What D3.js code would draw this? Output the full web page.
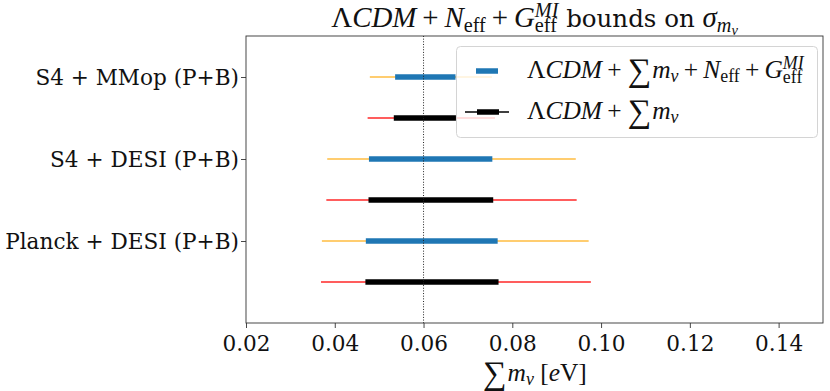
<!DOCTYPE html>
<html>
<head>
<meta charset="utf-8">
<script src="https://cdn.jsdelivr.net/npm/d3@7"></script>
<style>
  body { margin: 0; background: #fff; }
  svg { display: block; }
</style>
</head>
<body>
<svg id="chartArea" width="830" height="391"></svg>
<script>
// survey combinations, bottom to top
const categories = ["Planck + DESI (P+B)", "S4 + DESI (P+B)", "S4 + MMop (P+B)"];
const fiducialMass = 0.06;
const xTicks = [0.02, 0.04, 0.06, 0.08, 0.10, 0.12, 0.14];

// LCDM + sum m_nu + Neff + Geff (blue)
const extLo68 = [0.0470, 0.0477, 0.0536];
const extHi68 = [0.0767, 0.0755, 0.0672];
const extLo95 = [0.0371, 0.0383, 0.0479];
const extHi95 = [0.0972, 0.0943, 0.0754];

// LCDM + sum m_nu (black)
const baseLo68 = [0.0469, 0.0476, 0.0533];
const baseHi68 = [0.0769, 0.0757, 0.0673];
const baseLo95 = [0.0369, 0.0381, 0.0474];
const baseHi95 = [0.0977, 0.0945, 0.0761];

const FS = 21.6;
const mathFont = "Liberation Serif";
const mathScale = 1.18;   // Liberation is narrower than computer modern
const textFont = "DejaVu Serif";

// lays out a list of math pieces left to right, returns the group
function mathText(parent, parts, x, y, anchor, base) {
    base = base || FS;
    let g = parent.append("g");
    let cx = 0, stackX = null;
    parts.forEach(p => {
        let isText = p.f === "d";
        let size = (p.size || 1) * base * (isText ? 1 : mathScale);
        let pad = (p.pad || 0) * base;
        let startX = p.stacked ? stackX : cx + pad;
        let t = g.append("text")
            .attr("x", startX)
            .attr("y", (p.dy || 0) * base)
            .style("font-family", isText ? textFont : mathFont)
            .style("font-style", p.it ? "italic" : "normal")
            .style("font-size", size + "px")
            .style("white-space", "pre")
            .attr("fill", "#111")
            .text(p.t);
        let w = t.node().getComputedTextLength();
        if (p.stack) stackX = startX;
        let end = startX + w + pad;
        cx = p.stacked ? Math.max(cx, end) : end;
    });
    let shift = anchor === "middle" ? -cx / 2 : 0;
    g.attr("transform", `translate(${x + shift},${y})`);
    return g;
}

function createChart() {
    const svg = d3.select("#chartArea");
    const margin = {top: 36, right: 7, bottom: 68, left: 246};
    const width = 830, height = 391;
    const cWidth = width - margin.left - margin.right;
    const cHeight = height - margin.top - margin.bottom;

    let g = svg.append("g").attr("transform", `translate(${margin.left},${margin.top})`);

    let scaleX = d3.scaleLinear().domain([0.02, 0.15]).range([0, cWidth]);
    let scaleY = d3.scaleLinear().domain([-0.5, 3.0]).range([cHeight, 0]);

    let rows = categories.map((c, i) => ({
        name: c,
        yBase: i, yExt: i + 0.5,
        ext: [extLo68[i], extHi68[i], extLo95[i], extHi95[i]],
        base: [baseLo68[i], baseHi68[i], baseLo95[i], baseHi95[i]]
    }));

    // 95% lines
    rows.forEach(r => {
        g.append("line")
            .attr("x1", scaleX(r.ext[2])).attr("x2", scaleX(r.ext[3]))
            .attr("y1", scaleY(r.yExt)).attr("y2", scaleY(r.yExt))
            .attr("stroke", "orange").attr("stroke-opacity", 0.75).attr("stroke-width", 1.6);
        g.append("line")
            .attr("x1", scaleX(r.base[2])).attr("x2", scaleX(r.base[3]))
            .attr("y1", scaleY(r.yBase)).attr("y2", scaleY(r.yBase))
            .attr("stroke", "red").attr("stroke-opacity", 0.85).attr("stroke-width", 1.6);
    });
    // 68% bars
    rows.forEach(r => {
        g.append("line")
            .attr("x1", scaleX(r.ext[0])).attr("x2", scaleX(r.ext[1]))
            .attr("y1", scaleY(r.yExt)).attr("y2", scaleY(r.yExt))
            .attr("stroke", "#1f77b4").attr("stroke-width", 5.5);
        g.append("line")
            .attr("x1", scaleX(r.base[0])).attr("x2", scaleX(r.base[1]))
            .attr("y1", scaleY(r.yBase)).attr("y2", scaleY(r.yBase))
            .attr("stroke", "black").attr("stroke-width", 5.5);
    });

    g.append("line")
        .attr("x1", scaleX(fiducialMass)).attr("x2", scaleX(fiducialMass))
        .attr("y1", 0).attr("y2", cHeight)
        .attr("stroke", "#222").attr("stroke-width", 1)
        .attr("stroke-dasharray", "1,1.65");

    // axes
    let xAxis = g.append("g")
        .attr("transform", `translate(0,${cHeight})`)
        .call(d3.axisBottom(scaleX).tickValues(xTicks).tickFormat(d3.format(".2f")).tickSize(5).tickSizeOuter(0));
    let yAxis = g.append("g")
        .call(d3.axisLeft(scaleY).tickValues(rows.map(r => r.yExt))
            .tickFormat((d, i) => rows[i].name).tickSize(5).tickSizeOuter(0));
    [xAxis, yAxis].forEach(a => {
        a.select(".domain").remove();
        a.selectAll("line").attr("stroke", "#333").attr("stroke-width", 0.9);
        a.selectAll("text").style("font-family", textFont).style("font-size", FS + "px").attr("fill", "#111");
    });
    xAxis.selectAll("text").attr("dy", "0.93em");
    yAxis.selectAll("text").attr("x", -7).attr("dy", "0.36em");

    g.append("rect")
        .attr("width", cWidth).attr("height", cHeight)
        .attr("fill", "none").attr("stroke", "#333").attr("stroke-width", 0.9);

    // legend
    let lg = svg.append("g");
    lg.append("rect")
        .attr("x", 456.5).attr("y", 46.5).attr("width", 361).attr("height", 91)
        .attr("rx", 4).attr("fill", "white").attr("fill-opacity", 0.8)
        .attr("stroke", "#d4d4d4").attr("stroke-width", 1);
    lg.append("line").attr("x1", 476).attr("x2", 498).attr("y1", 71).attr("y2", 71)
        .attr("stroke", "#1f77b4").attr("stroke-width", 5.5);
    lg.append("line").attr("x1", 465).attr("x2", 509).attr("y1", 112).attr("y2", 112)
        .attr("stroke", "black").attr("stroke-width", 1.6);
    lg.append("line").attr("x1", 477).attr("x2", 499).attr("y1", 112).attr("y2", 112)
        .attr("stroke", "black").attr("stroke-width", 5.5);

    const plus = {t: "+", pad: 0.24};
    const sum = {t: "\u2211", size: 1.3, dy: 0.14, pad: 0.04};
    mathText(lg, [
        {t: "Λ"}, {t: "CDM", it: true}, plus, sum,
        {t: "m", it: true}, {t: "ν", it: true, size: 0.7, dy: 0.2}, plus,
        {t: "N", it: true}, {t: "eff", size: 0.7, dy: 0.2}, plus,
        {t: "G", it: true}, {t: "MI", it: true, size: 0.7, dy: -0.42, stack: true},
        {t: "eff", size: 0.7, dy: 0.22, stacked: true}
    ], 527, 78, "start");
    mathText(lg, [
        {t: "Λ"}, {t: "CDM", it: true}, plus, sum,
        {t: "m", it: true}, {t: "ν", it: true, size: 0.7, dy: 0.2}
    ], 527, 119, "start");

    // title
    mathText(svg, [
        {t: "Λ"}, {t: "CDM", it: true}, plus,
        {t: "N", it: true}, {t: "eff", size: 0.7, dy: 0.2}, plus,
        {t: "G", it: true}, {t: "MI", it: true, size: 0.7, dy: -0.42, stack: true},
        {t: "eff", size: 0.7, dy: 0.22, stacked: true},
        {t: " bounds on ", f: "d"},
        {t: "σ", it: true}, {t: "m", it: true, size: 0.7, dy: 0.2},
        {t: "ν", it: true, size: 0.5, dy: 0.32}
    ], margin.left + cWidth / 2, 27, "middle", 24.5);

    // x label
    mathText(svg, [
        sum, {t: "m", it: true}, {t: "ν", it: true, size: 0.7, dy: 0.2},
        {t: " [", pad: 0}, {t: "e", it: true}, {t: "V]"}
    ], margin.left + cWidth / 2, 381, "middle");
}

createChart();
</script>
</body>
</html>
